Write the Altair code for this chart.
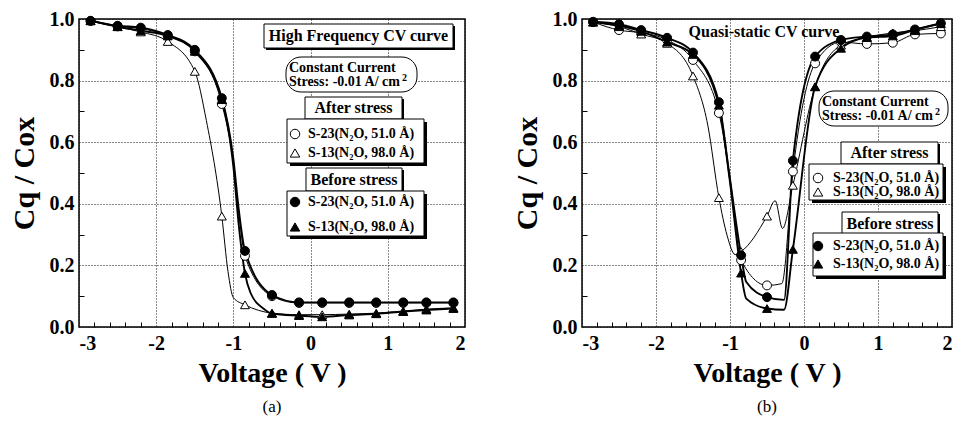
import altair as alt
import pandas as pd

FONT = "Liberation Serif"

# ---------------- data ----------------
# voltages at which markers are drawn
volt = [-2.85, -2.5, -2.2, -1.85, -1.5, -1.15, -0.85, -0.5, -0.15, 0.15, 0.5, 0.85, 1.2, 1.5, 1.85]

series_keys = ["S-23 after", "S-13 after", "S-23 before", "S-13 before"]
series_shape = {"S-23 after": "circle", "S-13 after": "triangle",
                "S-23 before": "circle", "S-13 before": "triangle"}
series_state = {"S-23 after": "after", "S-13 after": "after",
                "S-23 before": "before", "S-13 before": "before"}

# (a) High frequency CV curve
hf_s23_before = [0.994, 0.978, 0.972, 0.948, 0.900, 0.743, 0.247, 0.104, 0.080, 0.080, 0.080, 0.080, 0.080, 0.080, 0.080]
hf_s23_after = [0.994, 0.976, 0.969, 0.945, 0.895, 0.724, 0.231, 0.100, 0.078, 0.078, 0.078, 0.078, 0.078, 0.078, 0.078]
hf_s13_before = [0.995, 0.975, 0.962, 0.945, 0.895, 0.738, 0.174, 0.044, 0.037, 0.033, 0.039, 0.043, 0.050, 0.055, 0.060]
hf_s13_after = [0.994, 0.975, 0.958, 0.927, 0.830, 0.360, 0.072, 0.045, 0.040, 0.040, 0.042, 0.045, 0.052, 0.058, 0.062]
# extra vertices of the measured curves (between markers)
hf_s23_before_xv, hf_s23_before_xc = [-1.0, -0.93], [0.545, 0.38]
hf_s23_after_xv, hf_s23_after_xc = [-1.0, -0.93], [0.53, 0.37]
hf_s13_before_xv, hf_s13_before_xc = [-1.0, -0.93, -0.78, -0.6], [0.52, 0.33, 0.112, 0.058]
hf_s13_after_xv, hf_s13_after_xc = [-1.35, -1.07, -1.0], [0.67, 0.18, 0.095]

# (b) Quasi-static CV curve
qs_s23_before = [0.991, 0.983, 0.964, 0.939, 0.891, 0.730, 0.233, 0.097, 0.540, 0.878, 0.932, 0.943, 0.950, 0.966, 0.986]
qs_s23_after = [0.990, 0.964, 0.955, 0.932, 0.867, 0.695, 0.217, 0.135, 0.505, 0.856, 0.925, 0.919, 0.923, 0.950, 0.953]
qs_s13_before = [0.990, 0.978, 0.960, 0.925, 0.885, 0.720, 0.175, 0.060, 0.252, 0.780, 0.905, 0.940, 0.945, 0.965, 0.985]
qs_s13_after = [0.990, 0.975, 0.951, 0.921, 0.815, 0.420, 0.245, 0.360, 0.460, 0.780, 0.915, 0.940, 0.955, 0.962, 0.975]
qs_s23_before_xv, qs_s23_before_xc = [-1.02, -0.78, -0.27], [0.515, 0.146, 0.088]
qs_s23_after_xv, qs_s23_after_xc = [-1.0, -0.3], [0.48, 0.141]
qs_s13_before_xv, qs_s13_before_xc = [-1.0, -0.78, -0.27], [0.47, 0.092, 0.056]
qs_s13_after_xv, qs_s13_after_xc = [-1.3, -1.04, -0.93, -0.39, -0.29], [0.655, 0.298, 0.235, 0.41, 0.32]

# axis ticks
major_x = [-3, -2, -1, 0, 1, 2]
major_y = [0.0, 0.2, 0.4, 0.6, 0.8, 1.0]
minor_x = [-2.8, -2.6, -2.4, -2.2, -1.8, -1.6, -1.4, -1.2, -0.8, -0.6, -0.4, -0.2,
           0.2, 0.4, 0.6, 0.8, 1.2, 1.4, 1.6, 1.8]
minor_y = [0.1, 0.3, 0.5, 0.7, 0.9]

legend_after = ["S-23(N₂O, 51.0 Å)", "S-13(N₂O, 98.0 Å)"]
legend_before = ["S-23(N₂O, 51.0 Å)", "S-13(N₂O, 98.0 Å)"]


def frames(vals, extras):
    pts, lns = [], []
    for key in series_keys:
        for v, c in zip(volt, vals[key]):
            pts.append(dict(V=v, C=c, series=key, shape=series_shape[key], state=series_state[key]))
            lns.append(dict(V=v, C=c, series=key, state=series_state[key]))
        xv, xc = extras[key]
        for v, c in zip(xv, xc):
            lns.append(dict(V=v, C=c, series=key, state=series_state[key]))
    return pd.DataFrame(pts), pd.DataFrame(lns)


shape_scale = alt.Scale(domain=["circle", "triangle"], range=["circle", "triangle-up"])
fill_scale = alt.Scale(domain=["after", "before"], range=["white", "black"])


def panel(vals, extras, W, H, layout, caption):
    pts, lns = frames(vals, extras)
    xs = alt.Scale(domain=[-3, 2], nice=False, zero=False)
    ys = alt.Scale(domain=[0, 1], nice=False, zero=False)
    xaxis = alt.Axis(values=major_x, labelExpr="datum.value + ''", title="Voltage ( V )",
                     grid=True, gridDash=[1, 2], gridColor="#111", gridWidth=1, gridOpacity=1,
                     ticks=False, domain=False, labelFont=FONT, labelFontWeight="bold",
                     labelFontSize=20, labelColor="black", labelPadding=6,
                     titleFont=FONT, titleFontWeight="bold", titleFontSize=28,
                     titleColor="black", titlePadding=6)
    yaxis = alt.Axis(values=major_y, format=".1f", title="Cq / Cox",
                     grid=True, gridDash=[1, 2], gridColor="#111", gridWidth=1, gridOpacity=1,
                     ticks=False, domain=False, labelFont=FONT, labelFontWeight="bold",
                     labelFontSize=20, labelColor="black", labelPadding=5,
                     titleFont=FONT, titleFontWeight="bold", titleFontSize=30,
                     titleColor="black", titlePadding=10)
    lines = alt.Chart(lns).mark_line(interpolate="monotone", color="black").encode(
        x=alt.X("V:Q", scale=xs, axis=xaxis),
        y=alt.Y("C:Q", scale=ys, axis=yaxis),
        detail="series:N",
        strokeWidth=alt.StrokeWidth("state:N", scale=alt.Scale(domain=["after", "before"], range=[1.0, 1.9]), legend=None),
    )
    minor = alt.Chart(lns).mark_point(opacity=0).encode(
        x=alt.X("V:Q", scale=xs, axis=alt.Axis(orient="bottom", values=minor_x, offset=-5, tickSize=5,
                                               labels=False, domain=False, grid=False, title=None,
                                               tickColor="black", tickWidth=1)),
        y=alt.Y("C:Q", scale=ys, axis=alt.Axis(orient="left", values=minor_y, offset=-5, tickSize=5,
                                               labels=False, domain=False, grid=False, title=None,
                                               tickColor="black", tickWidth=1)),
    )
    points = alt.Chart(pts).mark_point(size=80, stroke="black", strokeWidth=1, opacity=1, filled=True).encode(
        x=alt.X("V:Q", scale=xs, axis=None),
        y=alt.Y("C:Q", scale=ys, axis=None),
        shape=alt.Shape("shape:N", scale=shape_scale, legend=None),
        fill=alt.Fill("state:N", scale=fill_scale, legend=None),
    )

    px = lambda f: alt.X(f + ":Q", scale=alt.Scale(domain=[0, W], nice=False, zero=False), axis=None)
    py = lambda f: alt.Y(f + ":Q", scale=alt.Scale(domain=[H, 0], nice=False, zero=False), axis=None)
    px2 = lambda f: alt.X2(f)
    py2 = lambda f: alt.Y2(f)

    boxes = pd.DataFrame(layout["boxes"])
    boxes["sx"] = boxes["x"] + boxes["sh"]
    boxes["sx2"] = boxes["x2"] + boxes["sh"]
    boxes["sy"] = boxes["y"] + boxes["sh"]
    boxes["sy2"] = boxes["y2"] + boxes["sh"]
    shadow = alt.Chart(boxes).mark_rect(color="black").encode(
        x=px("sx"), x2=px2("sx2"), y=py("sy"), y2=py2("sy2"))
    box = alt.Chart(boxes).mark_rect(fill="white", stroke="black", strokeWidth=1).encode(
        x=px("x"), x2=px2("x2"), y=py("y"), y2=py2("y2"))
    rb = pd.DataFrame([layout["round"]])
    rbox = alt.Chart(rb).mark_rect(fill="white", stroke="black", strokeWidth=1, cornerRadius=15).encode(
        x=px("x"), x2=px2("x2"), y=py("y"), y2=py2("y2"))

    head = alt.Chart(pd.DataFrame(layout["heads"])).mark_text(
        font=FONT, fontWeight="bold", fontSize=16, align="center", baseline="middle", color="black").encode(
        x=px("x"), y=py("y"), text="t:N")
    small = alt.Chart(pd.DataFrame(layout["small"])).mark_text(
        font=FONT, fontWeight="bold", fontSize=14, align="left", baseline="middle", color="black").encode(
        x=px("x"), y=py("y"), text="t:N")
    sup = alt.Chart(pd.DataFrame(layout["sup"])).mark_text(
        font=FONT, fontWeight="bold", fontSize=10, align="left", baseline="middle", color="black").encode(
        x=px("x"), y=py("y"), text="t:N")
    sym = alt.Chart(pd.DataFrame(layout["sym"])).mark_point(size=90, stroke="black", strokeWidth=1, opacity=1, filled=True).encode(
        x=px("x"), y=py("y"),
        shape=alt.Shape("shape:N", scale=shape_scale, legend=None),
        fill=alt.Fill("state:N", scale=fill_scale, legend=None))

    return alt.layer(lines, minor, points, shadow, box, rbox, head, small, sup, sym).resolve_scale(
        x="independent", y="independent").properties(
        width=W, height=H,
        title=alt.TitleParams(caption, orient="bottom", font=FONT, fontSize=17, fontWeight="normal",
                              color="black", offset=12))


# ---------------- layouts (pixels inside each plot) ----------------
WA, WB, H = 386, 370, 308

layout_a = {
    "boxes": [
        dict(x=185, x2=374, y=5, y2=29, sh=2),
        dict(x=226, x2=323, y=78, y2=100, sh=2),
        dict(x=208, x2=345, y=100, y2=144, sh=3),
        dict(x=227, x2=323, y=149, y2=172, sh=2),
        dict(x=208, x2=345, y=172, y2=217, sh=3),
    ],
    "round": dict(x=207, x2=338, y=38, y2=73),
    "heads": [
        dict(x=279.5, y=17, t="High Frequency CV curve"),
        dict(x=274.5, y=89, t="After stress"),
        dict(x=275, y=160.5, t="Before stress"),
    ],
    "small": [
        dict(x=210, y=49, t="Constant Current"),
        dict(x=210, y=63, t="Stress: -0.01 A/ cm"),
        dict(x=229, y=115, t=legend_after[0]),
        dict(x=229, y=134, t=legend_after[1]),
        dict(x=229, y=183, t=legend_before[0]),
        dict(x=229, y=208, t=legend_before[1]),
    ],
    "sup": [dict(x=323, y=59, t="2")],
    "sym": [
        dict(x=216, y=115, shape="circle", state="after"),
        dict(x=216, y=134, shape="triangle", state="after"),
        dict(x=216, y=183, shape="circle", state="before"),
        dict(x=216, y=208, shape="triangle", state="before"),
    ],
}

layout_b = {
    "boxes": [
        dict(x=259, x2=356, y=123, y2=145, sh=2),
        dict(x=227, x2=361, y=145, y2=181, sh=3),
        dict(x=260, x2=356, y=193, y2=216, sh=2),
        dict(x=231, x2=361, y=214, y2=257, sh=3),
    ],
    "round": dict(x=237, x2=366, y=72, y2=107),
    "heads": [
        dict(x=182, y=13, t="Quasi-static CV curve"),
        dict(x=307.5, y=134, t="After stress"),
        dict(x=308, y=204.5, t="Before stress"),
    ],
    "small": [
        dict(x=240, y=83, t="Constant Current"),
        dict(x=240, y=97, t="Stress: -0.01 A/ cm"),
        dict(x=251, y=159, t=legend_after[0]),
        dict(x=251, y=173, t=legend_after[1]),
        dict(x=251, y=227, t=legend_before[0]),
        dict(x=251, y=245, t=legend_before[1]),
    ],
    "sup": [dict(x=353, y=93, t="2")],
    "sym": [
        dict(x=236, y=159, shape="circle", state="after"),
        dict(x=236, y=173, shape="triangle", state="after"),
        dict(x=236, y=227, shape="circle", state="before"),
        dict(x=236, y=245, shape="triangle", state="before"),
    ],
}

vals_a = {"S-23 after": hf_s23_after, "S-13 after": hf_s13_after,
          "S-23 before": hf_s23_before, "S-13 before": hf_s13_before}
ext_a = {"S-23 after": (hf_s23_after_xv, hf_s23_after_xc), "S-13 after": (hf_s13_after_xv, hf_s13_after_xc),
         "S-23 before": (hf_s23_before_xv, hf_s23_before_xc), "S-13 before": (hf_s13_before_xv, hf_s13_before_xc)}
vals_b = {"S-23 after": qs_s23_after, "S-13 after": qs_s13_after,
          "S-23 before": qs_s23_before, "S-13 before": qs_s13_before}
ext_b = {"S-23 after": (qs_s23_after_xv, qs_s23_after_xc), "S-13 after": (qs_s13_after_xv, qs_s13_after_xc),
         "S-23 before": (qs_s23_before_xv, qs_s23_before_xc), "S-13 before": (qs_s13_before_xv, qs_s13_before_xc)}

pa = panel(vals_a, ext_a, WA, H, layout_a, "(a)")
pb = panel(vals_b, ext_b, WB, H, layout_b, "(b)")

chart = alt.hconcat(pa, pb, spacing=117, bounds="flush").properties(
    padding={"left": 0, "top": 0, "right": 0, "bottom": 0},
    background="white",
).configure_view(stroke="black", strokeWidth=1.5)

chart.save("out.html", embed_options={"renderer": "svg", "actions": False})
